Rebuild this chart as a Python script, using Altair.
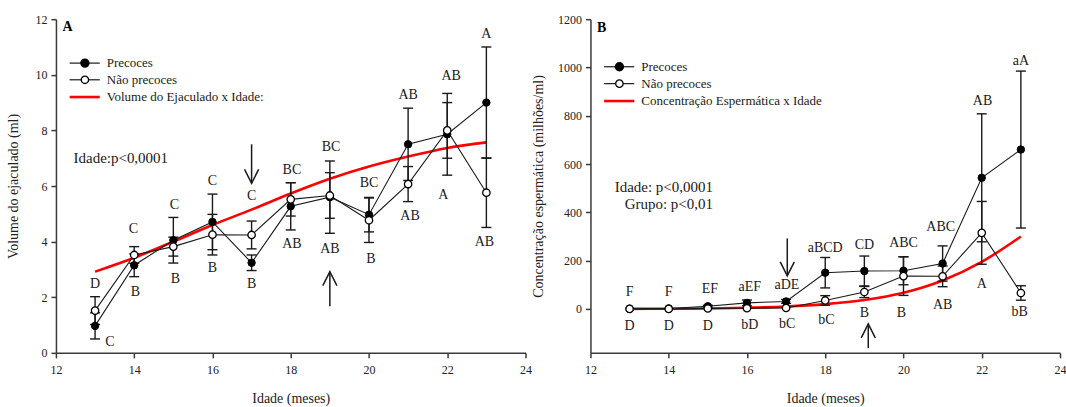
import altair as alt
import pandas as pd

FONT = "Liberation Serif"
INK = "#1a1a1a"
RED = "#ff0000"

ages = [13, 14, 15, 16, 17, 18, 19, 20, 21, 22, 23]
x_ticks = [12, 14, 16, 18, 20, 22, 24]

# ---------------- Panel A: Volume do ejaculado ----------------
vol_prec = [0.97, 3.15, 4.05, 4.71, 3.24, 5.27, 5.60, 4.97, 7.50, 7.86, 9.00]
vol_prec_err = [0.47, 0.41, 0.82, 1.00, 0.28, 0.85, 1.30, 0.62, 1.30, 1.47, 2.00]
vol_nao = [1.52, 3.52, 3.82, 4.25, 4.24, 5.52, 5.66, 4.77, 6.07, 8.00, 5.76]
vol_nao_err = [0.50, 0.30, 0.34, 0.73, 0.50, 0.60, 0.82, 0.80, 0.63, 1.00, 1.25]
vol_fit = [2.92, 3.42, 4.00, 4.60, 5.15, 5.73, 6.26, 6.70, 7.06, 7.37, 7.57]

vol_top_letters = ["D", "C", "C", "C", "C", "BC", "BC", "BC", "AB", "AB", "A"]
vol_top_x = [13.0, 13.98, 15.03, 16.0, 17.0, 18.03, 19.03, 20.0, 21.0, 22.1, 23.0]
vol_top_y = [2.47, 4.47, 5.33, 6.19, 5.65, 6.56, 7.39, 6.12, 9.27, 9.95, 11.47]
vol_bot_letters = ["C", "B", "B", "B", "B", "AB", "AB", "B", "AB", "A", "AB"]
vol_bot_x = [13.38, 14.03, 15.05, 16.0, 17.0, 18.03, 19.0, 20.05, 21.05, 21.9, 22.95]
vol_bot_y = [0.39, 2.19, 2.66, 3.04, 2.47, 3.92, 3.72, 3.39, 4.92, 5.68, 3.98]

vol_y_ticks = [0, 2, 4, 6, 8, 10, 12]
vol_domain = [0, 12]
vol_legend_labels = ["Precoces", "Não precoces", "Volume do Ejaculado x Idade:"]
vol_legend_y = [10.42, 9.82, 9.2]
vol_notes = ["Idade:p<0,0001"]
vol_notes_x = [12.45]
vol_notes_y = [7.02]
vol_arrow_x = [17.0, 19.0]
vol_arrow_from = [7.5, 1.68]
vol_arrow_to = [6.1, 2.92]

# ---------------- Panel B: Concentração espermática ----------------
conc_prec = [1, 2, 11, 25, 31, 150, 157, 158, 188, 543, 660]
conc_prec_err = [0, 0, 4, 12, 8, 63, 62, 58, 73, 265, 325]
conc_nao = [0, 0, 2, 3, 4, 35, 70, 136, 135, 315, 66]
conc_nao_err = [0, 0, 0, 0, 0, 20, 23, 80, 43, 130, 30]
conc_fit = [0, 1, 2, 5, 10, 20, 37, 67, 118, 195, 300]

conc_top_letters = ["F", "F", "EF", "aEF", "aDE", "aBCD", "CD", "ABC", "ABC", "AB", "aA"]
conc_top_x = [13.0, 14.0, 15.05, 16.07, 17.02, 18.0, 19.0, 20.0, 20.95, 22.02, 23.0]
conc_top_y = [68, 68, 82, 92, 97, 252, 265, 271, 340, 860, 1025]
conc_bot_letters = ["D", "D", "D", "bD", "bC", "bC", "B", "B", "AB", "A", "bB"]
conc_bot_x = [13.0, 14.0, 15.0, 16.07, 17.03, 18.03, 19.0, 19.95, 21.0, 22.0, 22.97]
conc_bot_y = [-70, -70, -70, -68, -64, -44, -18, -18, 15, 105, -12]

conc_y_ticks = [0, 200, 400, 600, 800, 1000, 1200]
conc_domain = [-182, 1200]
conc_legend_labels = ["Precoces", "Não precoces", "Concentração Espermática x Idade"]
conc_legend_y = [1003, 933, 861]
conc_notes = ["Idade: p<0,0001", "Grupo: p<0,01"]
conc_notes_x = [15.13, 15.13]
conc_notes_y = [505, 435]
conc_arrow_x = [17.03, 19.1]
conc_arrow_from = [292, -162]
conc_arrow_to = [137, -62]

AXIS_STYLE = dict(grid=False, labelFont=FONT, titleFont=FONT, labelFontSize=12,
                  titleFontSize=14, titleFontWeight="normal", labelColor="#222",
                  titleColor="#222", labelFlush=False, domainColor="#3a3a3a",
                  domainWidth=1.5, tickColor="#3a3a3a", tickWidth=1.5, tickSize=5)


def X(field="x"):
    return alt.X(f"{field}:Q",
                 scale=alt.Scale(domain=[12, 24], nice=False, zero=False),
                 axis=alt.Axis(values=x_ticks, title="Idade (meses)", format="d",
                               labelPadding=7, titlePadding=16, **AXIS_STYLE))


def make_panel(prec, prec_err, nao, nao_err, fit,
               top_l, top_x, top_y, bot_l, bot_x, bot_y,
               domain, yticks, ytitle, title_pad,
               leg_labels, leg_y, notes, notes_x, notes_y, notes_align,
               arrow_x, arrow_from, arrow_to, head_dy, letter, letter_y):
    def Y(field="y"):
        return alt.Y(f"{field}:Q",
                     scale=alt.Scale(domain=domain, nice=False, zero=False),
                     axis=alt.Axis(values=yticks, title=ytitle, format="d",
                                   labelPadding=4, titlePadding=title_pad, **AXIS_STYLE))

    rows = []
    for s, vals, errs in [("prec", prec, prec_err), ("nao", nao, nao_err)]:
        for a, v, e in zip(ages, vals, errs):
            rows.append(dict(series=s, x=a, y=v, lo=v - e, hi=v + e, err=e))
    df = pd.DataFrame(rows)
    edf = df[df.err > 0]
    caps = pd.concat([edf.assign(cap=edf.lo), edf.assign(cap=edf.hi)])

    fit_df = pd.DataFrame({"x": ages, "y": fit})
    fit_line = alt.Chart(fit_df).mark_line(
        color=RED, strokeWidth=2.6, interpolate="monotone").encode(x=X(), y=Y())

    bars = alt.Chart(edf).mark_rule(color=INK, strokeWidth=1.4).encode(
        x=X(), y=Y("lo"), y2="hi:Q")
    capm = alt.Chart(caps).mark_rule(
        color=INK, strokeWidth=1.4, xOffset=-5, x2Offset=5).encode(
        x=X(), x2="x:Q", y=Y("cap"))

    lines = alt.Chart(df).mark_line(color=INK, strokeWidth=1.1).encode(
        x=X(), y=Y(), detail="series:N")
    pf = alt.Chart(df[df.series == "prec"]).mark_point(
        shape="circle", filled=True, fill="black", stroke="black",
        strokeWidth=1, size=55, opacity=1).encode(x=X(), y=Y())
    po = alt.Chart(df[df.series == "nao"]).mark_point(
        shape="circle", filled=True, fill="white", stroke="black",
        strokeWidth=1.3, size=55, opacity=1).encode(x=X(), y=Y())

    lab_df = pd.DataFrame({"x": top_x + bot_x, "y": top_y + bot_y,
                           "t": top_l + bot_l})
    labs = alt.Chart(lab_df).mark_text(font=FONT, fontSize=14, color=INK).encode(
        x=X(), y=Y(), text="t:N")

    # legend drawn in data space
    lx0, lx1, lmark, ltext = 12.35, 13.12, 12.74, 13.3
    ll = pd.DataFrame({"x": [lx0, lx1, lx0, lx1], "y": [leg_y[0]] * 2 + [leg_y[1]] * 2,
                       "id": ["a", "a", "b", "b"]})
    leg_black = alt.Chart(ll).mark_line(color=INK, strokeWidth=1.2).encode(
        x=X(), y=Y(), detail="id:N")
    lr = pd.DataFrame({"x": [lx0, lx1], "y": [leg_y[2]] * 2})
    leg_red = alt.Chart(lr).mark_line(color=RED, strokeWidth=2.6).encode(x=X(), y=Y())
    leg_pf = alt.Chart(pd.DataFrame({"x": [lmark], "y": [leg_y[0]]})).mark_point(
        shape="circle", filled=True, fill="black", stroke="black", size=55,
        opacity=1).encode(x=X(), y=Y())
    leg_po = alt.Chart(pd.DataFrame({"x": [lmark], "y": [leg_y[1]]})).mark_point(
        shape="circle", filled=True, fill="white", stroke="black", strokeWidth=1.3,
        size=55, opacity=1).encode(x=X(), y=Y())
    leg_t = alt.Chart(pd.DataFrame({"x": [ltext] * 3, "y": leg_y, "t": leg_labels})).mark_text(
        font=FONT, fontSize=13, color=INK, align="left").encode(x=X(), y=Y(), text="t:N")

    note = alt.Chart(pd.DataFrame({"x": notes_x, "y": notes_y, "t": notes})).mark_text(
        font=FONT, fontSize=15, color=INK, align=notes_align).encode(
        x=X(), y=Y(), text="t:N")

    pl = alt.Chart(pd.DataFrame({"x": [12.17], "y": [letter_y], "t": [letter]})).mark_text(
        font=FONT, fontSize=14, fontWeight="bold", color="black", align="left").encode(
        x=X(), y=Y(), text="t:N")

    # arrows: shaft + V head
    arows = []
    for i, (ax, a0, a1) in enumerate(zip(arrow_x, arrow_from, arrow_to)):
        d = head_dy if a1 < a0 else -head_dy
        arows += [dict(id=f"s{i}", o=0, x=ax, y=a0), dict(id=f"s{i}", o=1, x=ax, y=a1),
                  dict(id=f"h{i}", o=0, x=ax - 0.18, y=a1 + d),
                  dict(id=f"h{i}", o=1, x=ax, y=a1),
                  dict(id=f"h{i}", o=2, x=ax + 0.18, y=a1 + d)]
    arrows = alt.Chart(pd.DataFrame(arows)).mark_line(color=INK, strokeWidth=1.5).encode(
        x=X(), y=Y(), detail="id:N", order="o:Q")

    return alt.layer(fit_line, bars, capm, lines, pf, po, labs,
                     leg_black, leg_red, leg_pf, leg_po, leg_t, note, pl, arrows
                     ).properties(width=470, height=334)


left = make_panel(vol_prec, vol_prec_err, vol_nao, vol_nao_err, vol_fit,
                  vol_top_letters, vol_top_x, vol_top_y,
                  vol_bot_letters, vol_bot_x, vol_bot_y,
                  vol_domain, vol_y_ticks, "Volume do ejaculado (ml)", 14,
                  vol_legend_labels, vol_legend_y, vol_notes, vol_notes_x, vol_notes_y, "left",
                  vol_arrow_x, vol_arrow_from, vol_arrow_to, 0.5, "A", 11.72)

right = make_panel(conc_prec, conc_prec_err, conc_nao, conc_nao_err, conc_fit,
                   conc_top_letters, conc_top_x, conc_top_y,
                   conc_bot_letters, conc_bot_x, conc_bot_y,
                   conc_domain, conc_y_ticks, "Concentração espermática (milhões/ml)", 12,
                   conc_legend_labels, conc_legend_y, conc_notes, conc_notes_x, conc_notes_y, "right",
                   conc_arrow_x, conc_arrow_from, conc_arrow_to, 58, "B", 1165)

chart = alt.hconcat(left, right, spacing=0).properties(
    padding={"left": 7, "top": 13, "right": 0, "bottom": 0}
).configure_view(stroke=None)

chart.save("out.html", embed_options={"renderer": "svg", "actions": False})
